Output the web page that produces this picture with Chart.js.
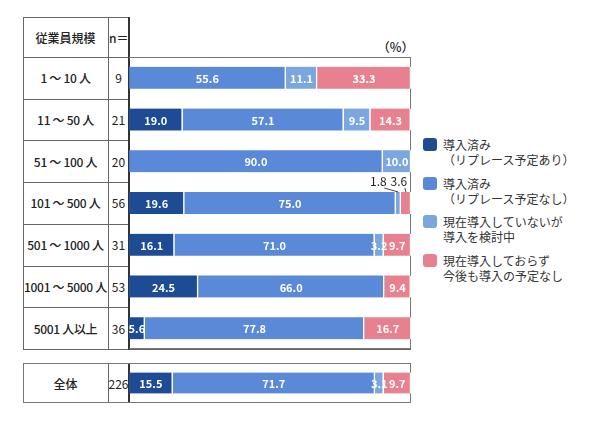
<!DOCTYPE html>
<html>
<head>
<meta charset="utf-8">
<script src="https://cdn.jsdelivr.net/npm/chart.js@4"></script>
<style>
    body { margin: 0; background: #fff; width: 590px; height: 421px; position: relative; overflow: hidden;
           font-family: "Noto Sans CJK JP", "Noto Sans", sans-serif; color: #222; }
    .abs { position: absolute; box-sizing: border-box; }
    .cell { position: absolute; box-sizing: border-box; display: flex; align-items: center; justify-content: center;
            font-size: 12px; white-space: nowrap; }
    .line { position: absolute; background: #666; }
    .legend-item { position: absolute; left: 423px; display: flex; align-items: flex-start; font-size: 12px; line-height: 15px; color: #333; }
    .legend-box { width: 14px; height: 13px; border-radius: 3px; margin-right: 6px; margin-top: 1px; flex: none; }
</style>
</head>
<body>
<div id="table"></div>
<div class="abs" style="left:129px;top:57px;width:282px;height:292px;border-top:1px solid #777;border-right:1px solid #777;border-bottom:1px solid #777;"></div>
<canvas id="mainChart" class="abs" width="282" height="292" style="left:129px;top:57px;"></canvas>
<div class="abs" style="left:23px;top:363px;width:388px;height:40px;border:1px solid #777;"></div>
<canvas id="totalChart" class="abs" width="282" height="38" style="left:129px;top:364px;"></canvas>
<div class="abs" style="left:370px;top:37px;width:44px;text-align:right;font-size:12.5px;font-weight:500;">（%）</div>
<div id="legend"></div>

<script>
// ========================================
// Data
// ========================================
const categories = ['1 ～ 10 人', '11 ～ 50 人', '51 ～ 100 人', '101 ～ 500 人', '501 ～ 1000 人', '1001 ～ 5000 人', '5001 人以上'];
const sampleSizes = [9, 21, 20, 56, 31, 53, 36];

const replaceYes = [0, 19.0, 0, 19.6, 16.1, 24.5, 5.6];
const replaceNo = [55.6, 57.1, 90.0, 75.0, 71.0, 66.0, 77.8];
const considering = [11.1, 9.5, 10.0, 1.8, 3.2, 0, 0];
const noPlan = [33.3, 14.3, 0, 3.6, 9.7, 9.4, 16.7];

const totalLabel = '全体';
const totalN = 226;
const totalValues = [15.5, 71.7, 3.1, 9.7];

const seriesNames = [
    '導入済み\n（リプレース予定あり）',
    '導入済み\n（リプレース予定なし）',
    '現在導入していないが\n導入を検討中',
    '現在導入しておらず\n今後も導入の予定なし'
];
const seriesColors = ['#1d4b94', '#5a89d8', '#7ba6de', '#e8818f'];

// labels drawn above the bar with a leader line: [row, dataset, x offset]
const outsideLabels = [[3, 2, -20], [3, 3, -7]];

const LABEL_FONT = 'bold 11px "Noto Sans CJK JP", "Noto Sans", sans-serif';

// ========================================
// Table (left side)
// ========================================
function buildTable() {
    const t = document.getElementById('table');
    const left = 23, c1 = 108, c2 = 129, right = 411;
    const headTop = 17, top = 57, bottom = 349;
    const rowH = (bottom - top) / categories.length;
    let html = '';

    // header
    html += `<div class="cell" style="left:${left}px;top:${headTop}px;width:${c1 - left}px;height:${top - headTop}px;font-weight:500;">従業員規模</div>`;
    html += `<div class="cell" style="left:${c1}px;top:${headTop}px;width:${c2 - c1}px;height:${top - headTop}px;justify-content:flex-start;padding-left:1px;font-weight:500;">n＝</div>`;
    html += `<div class="line" style="left:${left}px;top:${headTop}px;width:${c2 - left}px;height:1px;"></div>`;

    categories.forEach((c, i) => {
        const y = top + i * rowH;
        html += `<div class="cell" style="left:${left}px;top:${y}px;width:${c1 - left}px;height:${rowH}px;letter-spacing:-0.3px;font-weight:500;">${c}</div>`;
        html += `<div class="cell" style="left:${c1}px;top:${y}px;width:${c2 - c1}px;height:${rowH}px;">${sampleSizes[i]}</div>`;
        html += `<div class="line" style="left:${left}px;top:${Math.round(y)}px;width:${c2 - left}px;height:1px;"></div>`;
    });
    html += `<div class="line" style="left:${left}px;top:${bottom}px;width:${right - left}px;height:1px;"></div>`;

    // vertical lines
    html += `<div class="line" style="left:${left}px;top:${headTop}px;width:1px;height:${bottom - headTop}px;"></div>`;
    html += `<div class="line" style="left:${c1}px;top:${headTop}px;width:1px;height:${bottom - headTop}px;"></div>`;
    html += `<div class="line" style="left:${c2 - 1}px;top:${headTop}px;width:2px;height:${bottom - headTop + 1}px;background:#333;"></div>`;

    // total row
    html += `<div class="cell" style="left:${left}px;top:363px;width:${c1 - left}px;height:40px;font-weight:500;">${totalLabel}</div>`;
    html += `<div class="cell" style="left:${c1}px;top:363px;width:${c2 - c1}px;height:40px;">${totalN}</div>`;
    html += `<div class="line" style="left:${c1}px;top:363px;width:1px;height:40px;"></div>`;
    html += `<div class="line" style="left:${c2 - 1}px;top:363px;width:2px;height:40px;background:#333;"></div>`;
    t.innerHTML = html;
}

function buildLegend() {
    const lg = document.getElementById('legend');
    lg.innerHTML = seriesNames.map((name, i) => `
        <div class="legend-item" style="top:${137 + i * 38.5}px;">
            <div class="legend-box" style="background:${seriesColors[i]};"></div>
            <div>${name.replace('\n', '<br>')}</div>
        </div>
    `).join('');
}

// ========================================
// Value labels plugin
// ========================================
const valueLabels = {
    id: 'valueLabels',
    afterDatasetsDraw(chart, args, opts) {
        const ctx = chart.ctx;
        ctx.save();
        ctx.textAlign = 'center';
        ctx.textBaseline = 'middle';
        chart.data.datasets.forEach((ds, di) => {
            const meta = chart.getDatasetMeta(di);
            meta.data.forEach((bar, ri) => {
                const v = ds.data[ri];
                if (!v) return;
                const cx = (bar.x + bar.base) / 2;
                const outside = opts.outside && outsideLabels.find(o => o[0] === ri && o[1] === di);
                if (outside) {
                    const lx = cx + outside[2];
                    const top = bar.y - bar.height / 2;
                    ctx.fillStyle = '#222';
                    ctx.font = '12px "Noto Sans CJK JP", "Noto Sans", sans-serif';
                    ctx.fillText(v.toFixed(1), lx, top - 11);
                    ctx.strokeStyle = '#444';
                    ctx.lineWidth = 1;
                    ctx.beginPath();
                    ctx.moveTo(lx + 6, top - 4);
                    ctx.lineTo(cx, top);
                    ctx.stroke();
                    return;
                }
                ctx.font = LABEL_FONT;
                ctx.fillStyle = '#fff';
                ctx.fillText(v.toFixed(1), cx, bar.y + 1);
            });
        });
        ctx.restore();
    }
};

function makeChart(id, labels, series, thickness, outside) {
    return new Chart(document.getElementById(id), {
        type: 'bar',
        data: {
            labels: labels,
            datasets: series.map((data, i) => ({
                label: seriesNames[i],
                data: data,
                backgroundColor: seriesColors[i],
                borderColor: '#fff',
                borderWidth: { top: 0, bottom: 0, left: 0, right: 1.5 },
                borderSkipped: false,
                barThickness: thickness
            }))
        },
        options: {
            indexAxis: 'y',
            responsive: false,
            animation: false,
            layout: { padding: 0 },
            plugins: {
                legend: { display: false },
                tooltip: { enabled: false },
                valueLabels: { outside: outside }
            },
            scales: {
                x: { stacked: true, min: 0, max: 100, display: false },
                y: { stacked: true, display: false }
            }
        },
        plugins: [valueLabels]
    });
}

buildTable();
buildLegend();
makeChart('mainChart', categories, [replaceYes, replaceNo, considering, noPlan], 22, true);
makeChart('totalChart', [totalLabel], totalValues.map(v => [v]), 21, false);
</script>
</body>
</html>
